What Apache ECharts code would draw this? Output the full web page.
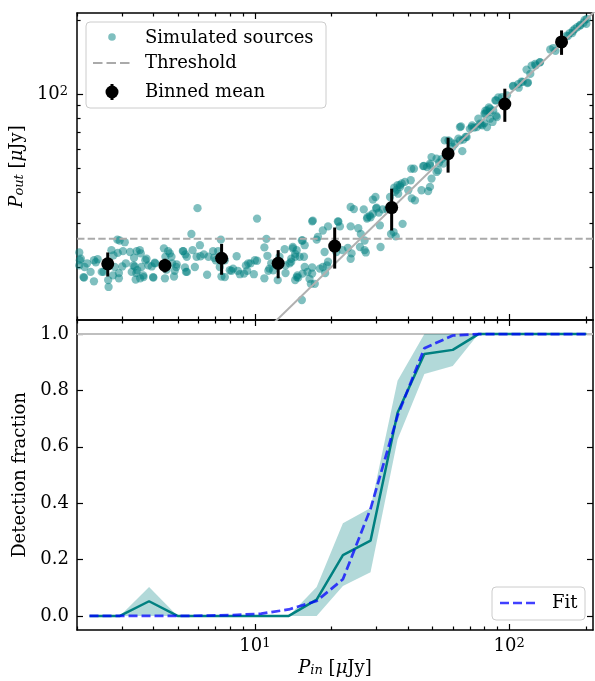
<!DOCTYPE html>
<html><head><meta charset="utf-8">
<script src="https://cdn.jsdelivr.net/npm/echarts@6/dist/echarts.min.js"></script>
<style>html,body{margin:0;padding:0;background:#fff}#c{width:595px;height:681px}</style>
</head><body><div id="c"></div>
<script>
// ---------- data ----------
const simPin = [
2.04,2.07,2.04,2.14,2.19,2.33,2.41,2.13,2.33,2.50,
2.65,2.66,2.77,2.73,2.88,2.81,2.94,3.03,3.08,3.11,
2.92,3.35,3.37,3.40,3.42,3.53,3.58,3.64,3.75,3.81,
3.93,3.99,4.05,4.39,4.43,4.49,4.63,4.70,4.73,4.84,
4.91,5.23,5.31,5.40,5.63,5.69,5.81,5.90,5.95,6.08,
6.11,6.30,6.49,6.57,6.85,7.02,7.28,7.35,7.39,7.62,
7.97,8.21,8.48,8.57,8.73,9.07,9.22,9.33,9.62,9.91,
10.0,10.2,10.9,11.1,11.2,11.4,11.8,12.3,12.5,13.1,
13.2,13.7,14.1,14.4,14.4,14.7,6.92,7.17,10.2,9.42,
11.6,11.3,5.36,7.62,8.09,10.9,13.2,13.9,14.8,2.05,
2.12,2.26,2.37,2.54,2.78,2.89,2.92,3.01,3.23,3.28,
3.33,3.43,3.45,3.54,3.56,3.65,3.71,3.98,4.04,4.45,
4.56,4.81,4.93,5.21,5.33,5.41,
14.1,13.9,14.4,15.0,15.6,14.6,15.4,16.1,16.8,16.6,
15.3,15.4,15.7,16.8,17.5,18.5,18.5,19.2,18.9,18.8,
21.2,21.6,22.1,23.8,24.5,23.8,24.0,23.8,25.5,25.9,
26.1,26.8,27.0,27.3,27.7,28.5,29.1,29.8,30.1,30.7,
31.2,31.0,31.8,33.2,34.0,34.3,35.3,35.8,36.6,37.2,
38.1,38.9,40.1,41.0,42.2,42.6,45.2,46.2,48.0,48.8,
49.5,51.8,53.0,54.2,55.0,55.8,56.8,61.2,63.1,64.0,
65.4,66.0,67.4,71.2,72.8,75.6,77.4,79.8,80.6,81.8,
84.0,86.5,88.8,89.4,93.6,98.0,103.5,109,113,117,
118,121,127,132,145,149,152,170,177,181,
185,190,198,201,
14.6,15.7,16.8,18.0,19.4,16.4,17.2,15.3,17.7,16.9,
19.4,21.3,20.9,23.2,27.0,27.6,28.3,29.1,30.0,34.0,
35.5,36.1,37.2,35.1,36.4,37.8,41.2,41.4,45.9,47.5,
48.8,49.5,48.8,52.5,51.8,57.7,59.1,59.8,64.0,64.6,
68.0,70.0,71.5,74.6,76.7,78.4,79.9,81.8,83.8,84.0,
86.0,88.2,80.6,83.2,88.8,90.6,103.7,108.5,111.7,118.4,
122.5,126.4,132.1,168,173,178,190,196,202
];
const simPout = [
22.9,21.6,20.3,20.0,20.7,21.3,21.5,18.1,17.5,19.1,
17.7,16.6,18.5,23.4,25.8,20.0,25.6,23.2,25.2,20.7,
18.9,21.8,20.1,17.8,18.9,23.4,20.0,18.5,21.6,20.3,
20.1,18.1,20.7,23.8,18.0,19.5,22.7,22.0,20.7,19.3,
20.0,23.2,19.9,22.0,27.2,23.4,20.0,22.0,34.6,24.5,
22.1,22.5,18.6,22.0,23.2,21.3,20.0,25.8,18.3,21.3,
19.4,19.7,22.1,19.3,18.7,18.8,20.3,19.3,20.7,18.7,
21.3,31.4,24.0,26.0,22.2,19.7,19.4,17.7,22.0,23.6,
18.9,20.7,23.8,22.0,17.7,18.5,21.8,23.2,21.2,20.7,
20.7,19.3,19.1,18.2,19.3,18.0,20.3,21.0,18.1,21.3,
18.2,19.1,20.9,19.1,22.3,22.8,18.0,20.1,23.0,19.1,
20.3,23.2,19.4,18.0,22.7,18.2,21.3,18.2,20.8,22.0,
23.2,18.3,20.5,23.2,22.5,19.1,
24.1,21.6,22.6,22.0,22.0,18.2,18.8,19.1,18.8,17.1,
14.7,25.6,24.5,30.6,25.8,28.1,20.0,20.3,18.9,23.0,
30.6,29.2,23.4,35.0,34.3,29.2,22.7,21.6,28.7,24.1,
27.2,34.2,25.6,22.9,31.8,31.8,37.5,38.4,34.8,33.2,
24.1,29.5,34.2,34.2,38.4,27.2,41.9,26.6,39.6,42.9,
29.9,44.2,40.9,44.9,50.0,37.2,40.9,51.3,40.6,51.6,
55.7,48.5,52.9,54.7,52.4,65.1,55.7,63.1,66.2,73.7,
58.9,65.6,67.2,73.7,73.3,79.7,75.4,76.5,83.5,73.7,
87.5,86.1,94.5,80.9,97.5,99.1,107.7,106.4,112.3,126,
111,121,131,135,152,154,150,172,177,184,
187,191,200,193,
23.4,20.0,19.9,19.7,21.0,17.9,17.1,25.6,26.5,30.8,
29.2,30.5,23.0,23.9,23.4,31.4,32.3,32.9,34.5,35.0,
40.3,41.1,42.1,27.7,42.9,43.6,50.0,37.9,51.2,50.8,
52.4,45.6,42.2,49.3,54.9,65.1,63.9,61.2,65.1,74.2,
67.2,72.5,74.9,73.7,76.1,74.9,83.5,86.1,84.8,79.7,
77.3,94.5,85.9,88.6,82.0,97.2,108.3,110.1,112.5,111.8,
130.7,132.7,134.7,172.9,177,180.9,189.7,195,202
];
const binPin  = [2.64, 4.43, 7.40, 12.35, 20.6, 34.5, 57.5, 96.1, 160.6];
const binMean = [20.6, 20.3, 21.7, 20.7, 24.3, 34.8, 57.5, 91.4, 163];
const binErr  = [2.3, 1.3, 3.1, 2.7, 4.6, 6.7, 9.3, 14.0, 18.5];
const thresholdValue = 26;
const oneToOne = [5, 250];

const detPin   = [2.24,2.95,3.84,4.97,6.38,8.20,10.6,13.6,17.5,22.2,28.5,36.4,46.4,60.0,75.7,97,124,158,201];
const detFrac  = [0,0,0.052,0,0,0,0,0,0.058,0.216,0.267,0.721,0.929,0.944,1,1,1,1,1];
const detUpper = [0,0,0.103,0,0,0,0,0,0.103,0.329,0.383,0.834,1,1,1,1,1,1,1];
const detLower = [0,0,0,0,0,0,0,0,0,0.106,0.155,0.626,0.858,0.887,1,1,1,1,1];
const fitFrac  = [0,0,0,0,0.001,0.003,0.008,0.023,0.053,0.13,0.38,0.71,0.95,0.995,1,1,1,1,1];
const completeLevel = 1.0;

const xRange = [2.0, 213.5];
const yTopRange = [12.2, 213.5];
const yBotRange = [-0.05, 1.05];
const xMajorTicks = [10, 100];
const xMinorTicks = [2,3,4,5,6,7,8,9,20,30,40,50,60,70,80,90,200];
const yTopMajorTicks = [100];
const yTopMinorTicks = [20,30,40,50,60,70,80,90,200];
const yBotTicks = [0, 0.2, 0.4, 0.6, 0.8, 1.0];

// ---------- styling ----------
const FONT = 'DejaVu Serif';
const FS = 18;
const TEAL = '#008080';
const richTick = {
  b: {fontFamily: FONT, fontSize: FS, color: '#000'},
  sup: {fontFamily: FONT, fontSize: 13, color: '#000', verticalAlign: 'top', lineHeight: 14}
};
const richName = {
  i: {fontFamily: FONT, fontSize: FS, fontStyle: 'italic', color: '#000'},
  sub: {fontFamily: FONT, fontSize: 13, fontStyle: 'italic', color: '#000', verticalAlign: 'bottom'},
  r: {fontFamily: FONT, fontSize: FS, color: '#000'}
};
const powFmt = v => '{b|10}{sup|' + Math.round(Math.log10(v)) + '}';

function ax(type, grid, pos, range, ticks, len, showLine, label) {
  const o = {
    type: type, gridIndex: grid, position: pos, min: range[0], max: range[1],
    axisLine: {show: showLine, onZero: false, lineStyle: {color: '#000', width: 1.5}},
    axisTick: {show: true, inside: true, length: len, customValues: ticks, lineStyle: {color: '#000', width: 1.2}},
    axisLabel: {show: false},
    splitLine: {show: false},
    minorTick: {show: false}, minorSplitLine: {show: false}
  };
  if (type === 'log') o.logBase = 10;
  if (label) Object.assign(o, label);
  return o;
}

const xAxes = [
  ax('log', 0, 'bottom', xRange, xMajorTicks, 6, true),
  ax('log', 0, 'bottom', xRange, xMinorTicks, 3.5, false),
  ax('log', 0, 'top', xRange, xMajorTicks, 6, true),
  ax('log', 0, 'top', xRange, xMinorTicks, 3.5, false),
  ax('log', 1, 'bottom', xRange, xMajorTicks, 6, true, {
    axisLabel: {show: true, customValues: xMajorTicks, formatter: powFmt, rich: richTick, margin: 7, color: '#000'},
    name: '{i|P}{sub|in}{r| [}{i|μ}{r|Jy]}', nameLocation: 'middle', nameGap: 29,
    nameTextStyle: {fontFamily: FONT, fontSize: FS, color: '#000', rich: richName}
  }),
  ax('log', 1, 'bottom', xRange, xMinorTicks, 3.5, false),
  ax('log', 1, 'top', xRange, xMajorTicks, 6, true),
  ax('log', 1, 'top', xRange, xMinorTicks, 3.5, false)
];
const yAxes = [
  ax('log', 0, 'left', yTopRange, yTopMajorTicks, 6, true, {
    axisLabel: {show: true, customValues: yTopMajorTicks, formatter: powFmt, rich: richTick, margin: 9, color: '#000'},
    name: '{i|P}{sub|out}{r| [}{i|μ}{r|Jy]}', nameLocation: 'middle', nameGap: 47, nameRotate: 90,
    nameTextStyle: {fontFamily: FONT, fontSize: FS, color: '#000', rich: richName}
  }),
  ax('log', 0, 'left', yTopRange, yTopMinorTicks, 3.5, false),
  ax('log', 0, 'right', yTopRange, yTopMajorTicks, 6, true),
  ax('log', 0, 'right', yTopRange, yTopMinorTicks, 3.5, false),
  ax('value', 1, 'left', yBotRange, yBotTicks, 6, true, {
    axisLabel: {show: true, customValues: yBotTicks, formatter: v => v.toFixed(1), margin: 8,
      fontFamily: FONT, fontSize: FS, color: '#000'},
    name: 'Detection fraction', nameLocation: 'middle', nameGap: 41, nameRotate: 90,
    nameTextStyle: {fontFamily: FONT, fontSize: FS, color: '#000'}
  }),
  ax('value', 1, 'right', yBotRange, yBotTicks, 6, true)
];

const simData = simPin.map((x, i) => [x, simPout[i]]).slice(0, Math.min(simPin.length, simPout.length));
const binData = binPin.map((x, i) => [x, binMean[i]]);
const errData = binPin.map((x, i) => [x, binMean[i] - binErr[i], binMean[i] + binErr[i]]);
const bandData = detPin.map((x, i) => [x, detLower[i], detUpper[i]]);

const series = [
  {type: 'scatter', name: 'Simulated sources', xAxisIndex: 0, yAxisIndex: 0, data: simData,
   symbolSize: 8.3, itemStyle: {color: TEAL, opacity: 0.5}, z: 2, silent: true},
  {type: 'line', name: 'Threshold', xAxisIndex: 0, yAxisIndex: 0,
   data: [[xRange[0], thresholdValue], [xRange[1], thresholdValue]], symbol: 'none',
   lineStyle: {color: '#aaaaaa', width: 2, type: [7.4, 3.2]}, z: 3, silent: true},
  {type: 'line', name: '1:1', xAxisIndex: 0, yAxisIndex: 0, clip: true,
   data: oneToOne.map(v => [v, v]), symbol: 'none',
   lineStyle: {color: '#b0b0b0', width: 2}, z: 3, silent: true},
  {type: 'custom', name: 'Binned mean err', xAxisIndex: 0, yAxisIndex: 0, data: errData,
   encode: {x: 0, y: [1, 2]}, z: 4, silent: true,
   renderItem: function (params, api) {
     const p1 = api.coord([api.value(0), api.value(1)]);
     const p2 = api.coord([api.value(0), api.value(2)]);
     return {type: 'line', shape: {x1: p1[0], y1: p1[1], x2: p2[0], y2: p2[1]},
       style: {stroke: '#000', lineWidth: 3}};
   }},
  {type: 'scatter', name: 'Binned mean', xAxisIndex: 0, yAxisIndex: 0, data: binData,
   symbolSize: 13, itemStyle: {color: '#000', opacity: 1}, z: 5, silent: true},

  {type: 'line', name: 'complete', xAxisIndex: 4, yAxisIndex: 4,
   data: [[xRange[0], completeLevel], [xRange[1], completeLevel]], symbol: 'none',
   lineStyle: {color: '#bfbfbf', width: 2}, z: 2, silent: true},
  {type: 'custom', name: 'band', xAxisIndex: 4, yAxisIndex: 4, data: bandData,
   encode: {x: 0, y: [1, 2]}, z: 3, silent: true,
   renderItem: function (params, api) {
     if (params.dataIndex !== 0) return null;
     const pts = [];
     for (let i = 0; i < detPin.length; i++) pts.push(api.coord([detPin[i], detUpper[i]]));
     for (let i = detPin.length - 1; i >= 0; i--) pts.push(api.coord([detPin[i], detLower[i]]));
     return {type: 'polygon', shape: {points: pts}, style: {fill: 'rgba(0,128,128,0.3)', stroke: null}};
   }},
  {type: 'line', name: 'Detection fraction', xAxisIndex: 4, yAxisIndex: 4,
   data: detPin.map((x, i) => [x, detFrac[i]]), symbol: 'none',
   lineStyle: {color: TEAL, width: 2.5}, z: 4, silent: true},
  {type: 'line', name: 'Fit', xAxisIndex: 4, yAxisIndex: 4,
   data: detPin.map((x, i) => [x, fitFrac[i]]), symbol: 'none',
   lineStyle: {color: 'rgba(0,0,255,0.75)', width: 2.7, type: [9, 4]}, z: 5, silent: true}
];

const txt = (t, x, y) => ({type: 'text', x: x, y: y, z: 101,
  style: {text: t, fontFamily: FONT, fontSize: FS, fill: '#000', verticalAlign: 'middle', align: 'left'}});

const graphic = [
  {type: 'rect', z: 100, shape: {x: 86, y: 22, width: 240, height: 86, r: 4},
   style: {fill: 'rgba(255,255,255,0.8)', stroke: '#cccccc', lineWidth: 1}},
  {type: 'circle', z: 101, shape: {cx: 112, cy: 37, r: 3.8}, style: {fill: 'rgba(0,128,128,0.5)'}},
  {type: 'line', z: 101, shape: {x1: 93, y1: 63, x2: 130, y2: 63},
   style: {stroke: '#aaaaaa', lineWidth: 2, lineDash: [9.5, 4]}},
  {type: 'line', z: 101, shape: {x1: 112, y1: 84, x2: 112, y2: 100}, style: {stroke: '#000', lineWidth: 3}},
  {type: 'circle', z: 101, shape: {cx: 112, cy: 92, r: 6.5}, style: {fill: '#000'}},
  txt('Simulated sources', 145, 38),
  txt('Threshold', 145, 63),
  txt('Binned mean', 145, 92),
  {type: 'rect', z: 100, shape: {x: 492, y: 587, width: 93, height: 33, r: 4},
   style: {fill: 'rgba(255,255,255,0.8)', stroke: '#cccccc', lineWidth: 1}},
  {type: 'line', z: 101, shape: {x1: 500, y1: 603, x2: 537, y2: 603},
   style: {stroke: 'rgba(0,0,255,0.75)', lineWidth: 2.7, lineDash: [9, 4]}},
  txt('Fit', 552, 603)
];

const chart = echarts.init(document.getElementById('c'), null, {renderer: 'canvas'});
chart.setOption({
  animation: false,
  backgroundColor: '#fff',
  grid: [
    {left: 77, top: 13, width: 516, height: 307},
    {left: 77, top: 320, width: 516, height: 310}
  ],
  xAxis: xAxes,
  yAxis: yAxes,
  series: series,
  graphic: graphic
});
</script></body></html>
